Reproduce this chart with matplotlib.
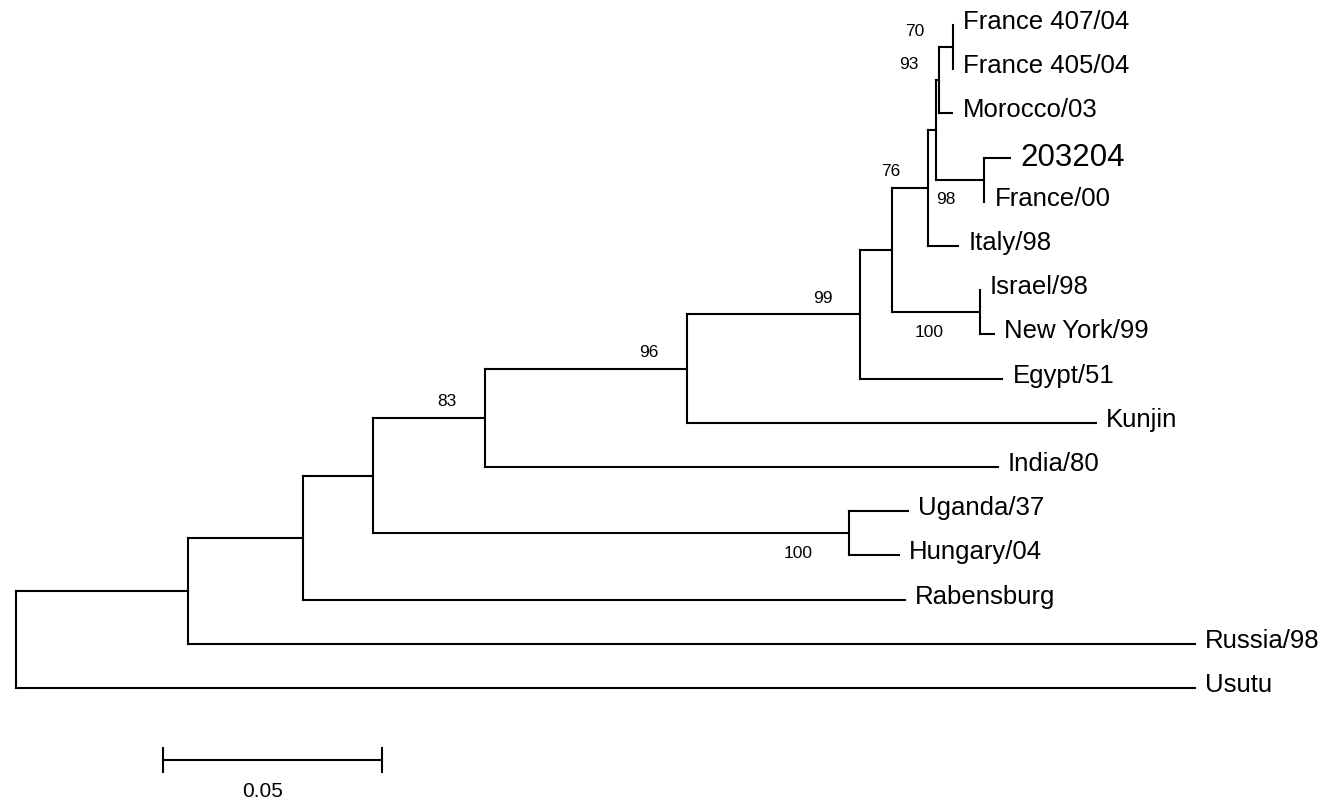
import matplotlib.pyplot as plt

# nodes internes: nom, pare, longitud de branca
node_names = ['root', 'A', 'B', 'C', 'D', 'N', 'E', 'F', 'G', 'M', 'H', 'I', 'L', 'J', 'K']
node_parent = [None, 'root', 'A', 'B', 'C', 'C', 'D', 'E', 'F', 'G', 'G', 'H', 'I', 'I', 'J']
node_length = [0.0, 0.0393, 0.0263, 0.0158, 0.0256, 0.1087, 0.0463, 0.0395,
               0.0073, 0.0199, 0.0082, 0.0018, 0.0110, 0.0007, 0.0032]

# fulles, de dalt a baix
tip_names = ['France 407/04', 'France 405/04', 'Morocco/03', '203204', 'France/00',
             'Italy/98', 'Israel/98', 'New York/99', 'Egypt/51', 'Kunjin', 'India/80',
             'Uganda/37', 'Hungary/04', 'Rabensburg', 'Russia/98', 'Usutu']
tip_parent = ['K', 'K', 'J', 'L', 'L', 'H', 'M', 'M', 'F', 'E', 'D',
              'N', 'N', 'B', 'A', 'root']
tip_length = [0.0, 0.0, 0.0030, 0.0059, 0.0, 0.0068, 0.0, 0.0032, 0.0324, 0.0932,
              0.1171, 0.0135, 0.0114, 0.1374, 0.2299, 0.2692]

# valors de bootstrap
boot_nodes = ['K', 'J', 'H', 'L', 'M', 'F', 'E', 'D', 'N']
boot_values = ['70', '93', '76', '98', '100', '99', '96', '83', '100']
boot_dx = [-29, -21, -28, -29, -36, -28, -29, -28, -36]
boot_below = [False, False, False, True, True, False, False, False, True]

scale_length = 0.05
scale_label = '0.05'

PX = 4380.0      # pixels per unitat de distància
ROW = 44.2       # pixels entre fulles

# posicions x (distància acumulada)
xpos = {}
for name, parent, length in zip(node_names, node_parent, node_length):
    xpos[name] = length if parent is None else xpos[parent] + length
tip_x = [xpos[p] + l for p, l in zip(tip_parent, tip_length)]

# posicions y: fulles per ordre, nodes al mig dels fills
children = {n: [] for n in node_names}
ypos = {}
for i, (name, parent) in enumerate(zip(tip_names, tip_parent)):
    children[parent].append(('tip', i))
for name, parent in zip(node_names, node_parent):
    if parent is not None:
        children[parent].append(('node', name))


def child_y(c):
    return c[1] if c[0] == 'tip' else get_y(c[1])


def get_y(name):
    if name not in ypos:
        ys = [child_y(c) for c in children[name]]
        ypos[name] = (min(ys) + max(ys)) / 2
    return ypos[name]


for n in node_names:
    get_y(n)

fig = plt.figure(figsize=(13.38, 8), dpi=100)
ax = fig.add_axes([0, 0, 1, 1])
ax.set_xlim(-16 / PX, (1338 - 16) / PX)
ax.set_ylim((800 - 25) / ROW, -25 / ROW)
ax.axis('off')

lw = 1.5
kw = dict(color='black', lw=lw, solid_capstyle='projecting')

# branques horitzontals dels nodes interns
for name, parent in zip(node_names, node_parent):
    if parent is not None:
        ax.plot([xpos[parent], xpos[name]], [ypos[name], ypos[name]], **kw)

# branques verticals
for name in node_names:
    ys = [child_y(c) for c in children[name]]
    ax.plot([xpos[name], xpos[name]], [min(ys), max(ys)], **kw)

# branques de les fulles i etiquetes
for i, (name, parent) in enumerate(zip(tip_names, tip_parent)):
    if tip_x[i] > xpos[parent]:
        ax.plot([xpos[parent], tip_x[i]], [i, i], **kw)
    big = name == '203204'
    ax.annotate(name, (tip_x[i], i), xytext=(10, -8 if big else -4),
                textcoords='offset pixels', ha='left', va='baseline',
                fontsize=22.5 if big else 18.5, family='Liberation Sans')

# bootstrap
for n, v, dx, below in zip(boot_nodes, boot_values, boot_dx, boot_below):
    ax.annotate(v, (xpos[n], ypos[n]), xytext=(dx, -24.5 if below else 11.5),
                textcoords='offset pixels', ha='right', va='baseline',
                fontsize=12.5, family='Liberation Sans')

# barra d'escala
sx0 = (163 - 16) / PX
sy = (760 - 25) / ROW
tick = 12 / ROW
ax.plot([sx0, sx0 + scale_length], [sy, sy], color='black', lw=lw)
ax.plot([sx0, sx0], [sy - tick, sy + tick], color='black', lw=lw)
ax.plot([sx0 + scale_length, sx0 + scale_length], [sy - tick, sy + tick], color='black', lw=lw)
ax.annotate(scale_label, (sx0 + scale_length / 2, sy), xytext=(-10, -37),
            textcoords='offset pixels', ha='center', va='baseline',
            fontsize=15, family='Liberation Sans')

fig.savefig('out.png', dpi=100)
